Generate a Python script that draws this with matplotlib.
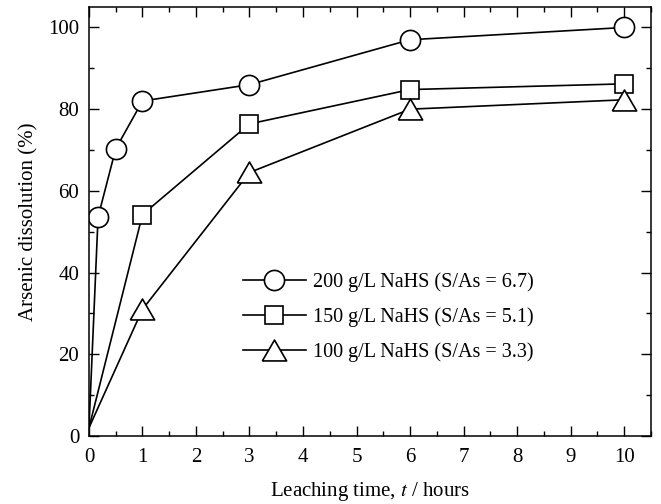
import matplotlib.pyplot as plt
from matplotlib.ticker import MultipleLocator

plt.rcParams['font.family'] = ['Liberation Serif', 'DejaVu Serif']
plt.rcParams['mathtext.fontset'] = 'stix'

# leaching time (hours) and arsenic dissolution (%)
t_200 = [0, 0.17, 0.5, 1, 3, 6, 10]
as_200 = [2, 53.6, 70.3, 82, 86, 97, 100]

t_150 = [0, 1, 3, 6, 10]
as_150 = [2, 54.2, 76.4, 84.8, 86.2]

t_100 = [0, 1, 3, 6, 10]
as_100 = [2, 31, 64.5, 80, 82.3]

labels = ['200 g/L NaHS (S/As = 6.7)',
          '150 g/L NaHS (S/As = 5.1)',
          '100 g/L NaHS (S/As = 3.3)']

# slightly flattened open triangle
tri = [(-1, -0.86), (1, -0.86), (0, 0.86), (-1, -0.86)]

fig = plt.figure(figsize=(6.61, 5.04), dpi=100)
ax = fig.add_axes([0.1346, 0.135, 0.850, 0.851])

style = dict(color='black', lw=1.2, mfc='white', mec='black', mew=1.2,
             markevery=slice(1, None))
ax.plot(t_200, as_200, marker='o', ms=14.5, label=labels[0], **style)
ax.plot(t_150, as_150, marker='s', ms=13.5, label=labels[1], **style)
ax.plot(t_100, as_100, marker=tri, ms=17.5, label=labels[2], **style)

ax.set_xlim(0, 10.5)
ax.set_ylim(0, 105)
ax.xaxis.set_major_locator(MultipleLocator(1))
ax.xaxis.set_minor_locator(MultipleLocator(0.5))
ax.yaxis.set_major_locator(MultipleLocator(20))
ax.yaxis.set_minor_locator(MultipleLocator(10))
ax.tick_params(which='both', direction='in', top=True, right=True,
               labelsize=15, width=1)
ax.tick_params(axis='x', pad=9)
ax.tick_params(axis='y', pad=7)
ax.tick_params(which='major', length=7)
ax.tick_params(which='minor', length=3.5)
for s in ax.spines.values():
    s.set_linewidth(1.1)

ax.set_xlabel('Leaching time, $t$ / hours', fontsize=15, labelpad=9)
ax.set_ylabel('Arsenic dissolution (%)', fontsize=15, labelpad=7)

ax.legend(loc='upper left', bbox_to_anchor=(0.2735, 0.381), frameon=False,
          fontsize=14.5, handlelength=3.15, handletextpad=0.33,
          labelspacing=0.75, borderpad=0, borderaxespad=0)

fig.savefig('out.png', dpi=100)
